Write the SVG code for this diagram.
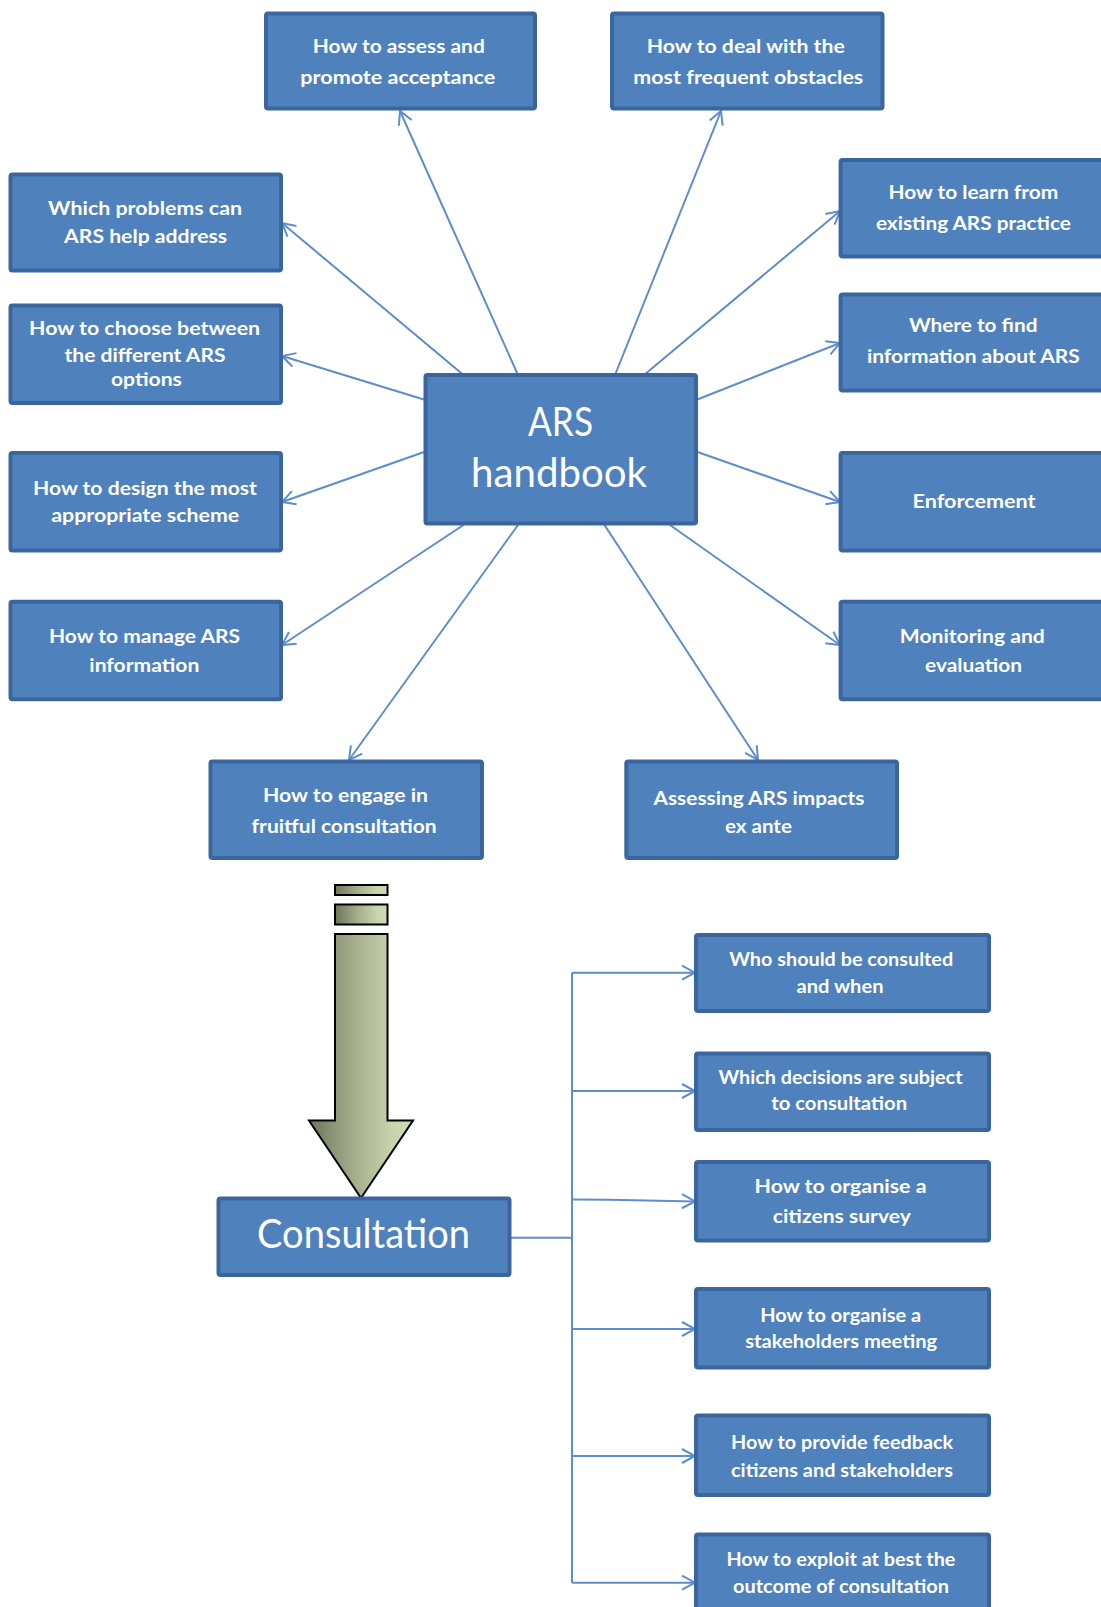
<svg xmlns="http://www.w3.org/2000/svg" width="1101" height="1607" viewBox="0 0 1101 1607">
<style>
.box{fill:#4F81BD;stroke:#3B669D;stroke-width:4}
.t{font-family:Lato,"Liberation Sans",sans-serif;font-weight:bold;fill:#FFFFFF;text-anchor:middle;font-size:19px}
.s{font-size:18px}
.big{font-family:Lato,"Liberation Sans",sans-serif;font-weight:normal;fill:#FFFFFF;text-anchor:middle}
.c{stroke:#5E8DC9;stroke-width:2;fill:none;marker-end:url(#ah)}
.cl{stroke:#5E8DC9;stroke-width:2;fill:none}
.blk{stroke:#000;stroke-width:2;fill:url(#g)}
</style>
<defs>
<marker id="ah" markerUnits="userSpaceOnUse" markerWidth="30" markerHeight="30" refX="0" refY="0" orient="auto" overflow="visible">
<path d="M-13,-7 L0,0 L-13,7" fill="none" stroke="#5E8DC9" stroke-width="2"/>
</marker>
<linearGradient id="g" x1="0" y1="0" x2="1" y2="0">
<stop offset="0" stop-color="#6E765C"/>
<stop offset="0.45" stop-color="#A6B08E"/>
<stop offset="0.8" stop-color="#C8D4AC"/>
<stop offset="1" stop-color="#CFDBB5"/>
</linearGradient>
</defs>

<g id="connectors">
<line class="c" x1="518" y1="375" x2="400" y2="111"/>
<line class="c" x1="615" y1="375" x2="721" y2="111"/>
<line class="c" x1="463.5" y1="375" x2="282" y2="223"/>
<line class="c" x1="425.5" y1="400" x2="282" y2="356"/>
<line class="c" x1="425.5" y1="451.5" x2="282" y2="502"/>
<line class="c" x1="463.5" y1="525" x2="282" y2="645"/>
<line class="c" x1="518" y1="525" x2="349" y2="760"/>
<line class="c" x1="644" y1="375" x2="840" y2="211"/>
<line class="c" x1="696" y1="400" x2="840" y2="343"/>
<line class="c" x1="696" y1="451.5" x2="840" y2="502"/>
<line class="c" x1="670" y1="525" x2="840" y2="645"/>
<line class="c" x1="604.5" y1="525" x2="758" y2="760"/>
<line class="cl" x1="510" y1="1237.7" x2="572" y2="1237.7"/>
<line class="cl" x1="572" y1="972.7" x2="572" y2="1582.7"/>
<line class="c" x1="572" y1="972.7" x2="695" y2="972.7"/>
<line class="c" x1="572" y1="1091" x2="695" y2="1091"/>
<path class="c" d="M572,1199.5 L610,1199.8 L695,1201.5"/>
<line class="c" x1="572" y1="1329" x2="695" y2="1329"/>
<line class="c" x1="572" y1="1456" x2="695" y2="1456"/>
<line class="c" x1="572" y1="1582.7" x2="695" y2="1582.7"/>
</g>

<g id="n-handbook">
<rect class="box" x="425.5" y="375" width="270.5" height="148.5" rx="2"/>
<text class="big" x="560.5" y="436" font-size="40" textLength="65" lengthAdjust="spacingAndGlyphs">ARS</text>
<text class="big" x="559" y="486.7" font-size="40" textLength="176" lengthAdjust="spacingAndGlyphs">handbook</text>
</g>

<g id="n-assess">
<rect class="box" x="266" y="13.5" width="269" height="95" rx="2"/>
<text class="t" x="398.8" y="52.7" textLength="172" lengthAdjust="spacingAndGlyphs">How to assess and</text>
<text class="t" x="397.8" y="84" textLength="195" lengthAdjust="spacingAndGlyphs">promote acceptance</text>
</g>

<g id="n-deal">
<rect class="box" x="612" y="13.5" width="270.5" height="95" rx="2"/>
<text class="t" x="745.8" y="52.7" textLength="198" lengthAdjust="spacingAndGlyphs">How to deal with  the</text>
<text class="t" x="748.3" y="84" textLength="230" lengthAdjust="spacingAndGlyphs">most frequent obstacles</text>
</g>

<g id="n-problems">
<rect class="box" x="10.5" y="174.5" width="270.5" height="96" rx="2"/>
<text class="t" x="145.1" y="215" textLength="194" lengthAdjust="spacingAndGlyphs">Which problems can</text>
<text class="t" x="145.6" y="243.3" textLength="163" lengthAdjust="spacingAndGlyphs">ARS help address</text>
</g>

<g id="n-choose">
<rect class="box" x="10.5" y="305.5" width="270.5" height="97.5" rx="2"/>
<text class="t" x="144.6" y="335" textLength="231" lengthAdjust="spacingAndGlyphs">How to choose between</text>
<text class="t" x="145" y="361.5" textLength="161" lengthAdjust="spacingAndGlyphs">the different ARS</text>
<text class="t" x="146.4" y="386" textLength="71" lengthAdjust="spacingAndGlyphs">options</text>
</g>

<g id="n-design">
<rect class="box" x="10.5" y="453" width="270.5" height="97.5" rx="2"/>
<text class="t" x="145" y="495" textLength="224" lengthAdjust="spacingAndGlyphs">How to design the most</text>
<text class="t" x="145.2" y="521.7" textLength="188" lengthAdjust="spacingAndGlyphs">appropriate scheme</text>
</g>

<g id="n-manage">
<rect class="box" x="10.5" y="601.7" width="270.5" height="97.5" rx="2"/>
<text class="t" x="144.5" y="643.3" textLength="191" lengthAdjust="spacingAndGlyphs">How to manage  ARS</text>
<text class="t" x="144.3" y="671.7" textLength="110" lengthAdjust="spacingAndGlyphs">information</text>
</g>

<g id="n-engage">
<rect class="box" x="210.5" y="761.6" width="271.5" height="96.5" rx="2"/>
<text class="t" x="345.6" y="801.7" textLength="165" lengthAdjust="spacingAndGlyphs">How to engage  in</text>
<text class="t" x="344.1" y="832.7" textLength="185" lengthAdjust="spacingAndGlyphs">fruitful consultation</text>
</g>

<g id="n-learn">
<rect class="box" x="840.6" y="160" width="270" height="96.5" rx="2"/>
<text class="t" x="973.4" y="199.3" textLength="170" lengthAdjust="spacingAndGlyphs">How to learn from</text>
<text class="t" x="973.4" y="230" textLength="195" lengthAdjust="spacingAndGlyphs">existing ARS  practice</text>
</g>

<g id="n-find">
<rect class="box" x="840.6" y="294.5" width="270" height="96" rx="2"/>
<text class="t" x="973.2" y="331.7" textLength="128.6" lengthAdjust="spacingAndGlyphs">Where to find</text>
<text class="t" x="973.4" y="363.3" textLength="213" lengthAdjust="spacingAndGlyphs">information about ARS</text>
</g>

<g id="n-enforcement">
<rect class="box" x="840.6" y="453" width="270" height="97.5" rx="2"/>
<text class="t" x="974" y="508.3" textLength="123" lengthAdjust="spacingAndGlyphs">Enforcement</text>
</g>

<g id="n-monitoring">
<rect class="box" x="840.6" y="601.7" width="270" height="97.5" rx="2"/>
<text class="t" x="972.3" y="643.3" textLength="145" lengthAdjust="spacingAndGlyphs">Monitoring and</text>
<text class="t" x="973.5" y="671.7" textLength="97" lengthAdjust="spacingAndGlyphs">evaluation</text>
</g>

<g id="n-assessing">
<rect class="box" x="626.3" y="761.6" width="270.7" height="96.5" rx="2"/>
<text class="t" x="759" y="805" textLength="211" lengthAdjust="spacingAndGlyphs">Assessing ARS impacts</text>
<text class="t" x="758.4" y="833.3" textLength="67" lengthAdjust="spacingAndGlyphs">ex ante</text>
</g>

<g id="block-arrow">
<rect class="blk" x="335" y="885" width="52.5" height="10"/>
<rect class="blk" x="335" y="904.5" width="52.5" height="20"/>
<path class="blk" d="M335,934 H387.5 V1120.5 H413 L361,1198 L309,1120.5 H335 Z"/>
</g>

<g id="n-consultation">
<rect class="box" x="218.5" y="1198.5" width="291" height="76.5" rx="2"/>
<text class="big" x="363.6" y="1248.3" font-size="40" textLength="213" lengthAdjust="spacingAndGlyphs">Consultation</text>
</g>

<g id="n-who">
<rect class="box" x="696" y="935" width="293" height="76" rx="2"/>
<text class="t s" x="841.2" y="965.7" textLength="224" lengthAdjust="spacingAndGlyphs">Who should be consulted</text>
<text class="t s" x="840" y="993.3" textLength="87" lengthAdjust="spacingAndGlyphs">and when</text>
</g>

<g id="n-decisions">
<rect class="box" x="696" y="1053.5" width="293" height="76.5" rx="2"/>
<text class="t s" x="840.5" y="1084.3" textLength="244" lengthAdjust="spacingAndGlyphs">Which decisions are subject</text>
<text class="t s" x="839.2" y="1110" textLength="136" lengthAdjust="spacingAndGlyphs">to consultation</text>
</g>

<g id="n-survey">
<rect class="box" x="696" y="1162" width="293" height="78.5" rx="2"/>
<text class="t" x="840.5" y="1192.7" font-size="22" textLength="172" lengthAdjust="spacingAndGlyphs">How to organise a</text>
<text class="t" x="841.8" y="1223.3" font-size="22" textLength="138" lengthAdjust="spacingAndGlyphs">citizens survey</text>
</g>

<g id="n-meeting">
<rect class="box" x="696" y="1289" width="293" height="78.5" rx="2"/>
<text class="t s" x="840.7" y="1322.3" textLength="161" lengthAdjust="spacingAndGlyphs">How to organise a</text>
<text class="t s" x="841.2" y="1348.3" textLength="192" lengthAdjust="spacingAndGlyphs">stakeholders meeting</text>
</g>

<g id="n-feedback">
<rect class="box" x="696" y="1415.5" width="293" height="79.5" rx="2"/>
<text class="t s" x="842.1" y="1449.3" textLength="222" lengthAdjust="spacingAndGlyphs">How to provide feedback</text>
<text class="t s" x="842" y="1476.7" textLength="222" lengthAdjust="spacingAndGlyphs">citizens and stakeholders</text>
</g>

<g id="n-exploit">
<rect class="box" x="696" y="1534.5" width="293" height="80" rx="2"/>
<text class="t s" x="840.9" y="1565.7" textLength="229" lengthAdjust="spacingAndGlyphs">How to exploit at best the</text>
<text class="t s" x="841" y="1592.7" textLength="216" lengthAdjust="spacingAndGlyphs">outcome of consultation</text>
</g>
</svg>
